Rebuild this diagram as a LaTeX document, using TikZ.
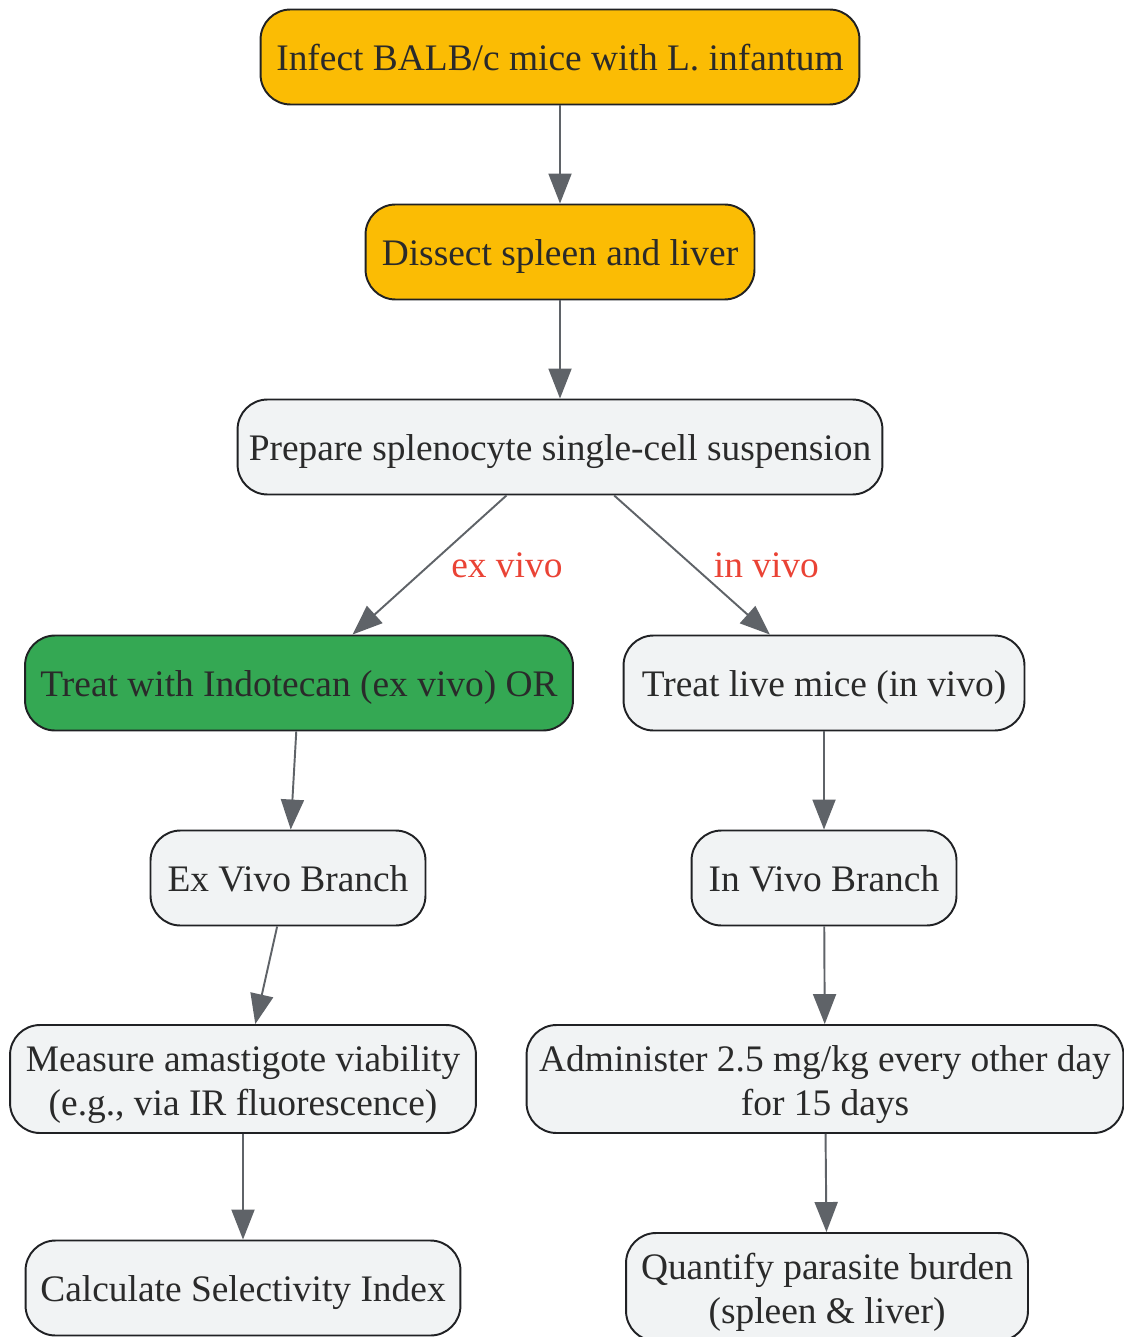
\documentclass[tikz,border=0pt]{standalone}
\usepackage{fontspec}
\setmainfont{Liberation Serif}
\usetikzlibrary{arrows.meta}

\definecolor{boxline}{HTML}{202124}
\definecolor{textgray}{HTML}{2A2A2A}
\definecolor{arrowgray}{HTML}{5F6368}
\definecolor{stepyellow}{HTML}{FBBC04}
\definecolor{stepgreen}{HTML}{34A853}
\definecolor{stepgray}{HTML}{F1F3F4}
\definecolor{labelred}{HTML}{EA4335}

\newcommand{\toprow}{\rule{0pt}{21.5pt}}

\tikzset{
    box/.style={draw=boxline, line width=1.1pt, rounded corners=0.6cm,
        minimum height=1.9cm, align=center, text=textgray,
        font=\fontsize{21.3}{25}\selectfont, fill=stepgray,
        execute at begin node={\rule{0pt}{20.5pt}},
        execute at end node={\rule[-4.7pt]{0pt}{4.7pt}}},
    twoline/.style={minimum height=2.16cm},
    yellowbox/.style={box, fill=stepyellow},
    greenbox/.style={box, fill=stepgreen},
    flow/.style={draw=arrowgray, line width=1.1pt,
        -{Triangle[length=0.6cm, width=0.46cm]}},
    branchlabel/.style={text=labelred, font=\fontsize{21.3}{25}\selectfont}
}

\begin{document}
\begin{tikzpicture}[x=0.02cm, y=-0.02cm]

                \useasboundingbox (0,0) rectangle (1123,1337);

                % Top of the workflow
                \node[yellowbox, minimum width=11.98cm] (infect) at (560,57) {Infect BALB/c mice with L. infantum};
                \node[yellowbox, minimum width=7.78cm] (dissect) at (560,252) {Dissect spleen and liver};
                \node[box, minimum width=12.9cm] (prepare) at (560,447) {Prepare splenocyte single-cell suspension};

                % Ex vivo side
                \node[greenbox, minimum width=10.96cm] (treatex) at (299,683) {Treat with Indotecan (ex vivo) OR};
                \node[box, minimum width=5.5cm] (exbranch) at (288,878) {Ex Vivo Branch};
                \node[box, twoline, minimum width=9.32cm] (measure) at (243,1079) {\toprow Measure amastigote viability\\(e.g., via IR fluorescence)};
                \node[box, minimum width=8.7cm] (calc) at (243,1288) {Calculate Selectivity Index};

                % In vivo side
                \node[box, minimum width=8.02cm] (treatin) at (824,683) {Treat live mice (in vivo)};
                \node[box, minimum width=5.3cm] (inbranch) at (824,878) {In Vivo Branch};
                \node[box, twoline, minimum width=11.94cm] (admin) at (825,1079) {\toprow Administer 2.5 mg/kg every other day\\for 15 days};
                \node[box, twoline, minimum width=8.04cm] (quantify) at (827,1287) {\toprow Quantify parasite burden\\(spleen \& liver)};

                % Arrows
                \draw[flow] (infect) -- (dissect);
                \draw[flow] (dissect) -- (prepare);
                \draw[flow] (prepare) -- (treatex) node[branchlabel, midway, right=0.3cm] {ex vivo};
                \draw[flow] (prepare) -- (treatin) node[branchlabel, midway, right=0.3cm] {in vivo};
                \draw[flow] (treatex) -- (exbranch);
                \draw[flow] (exbranch) -- (measure);
                \draw[flow] (measure) -- (calc);
                \draw[flow] (treatin) -- (inbranch);
                \draw[flow] (inbranch) -- (admin);
                \draw[flow] (admin) -- (quantify);

\end{tikzpicture}
\end{document}
